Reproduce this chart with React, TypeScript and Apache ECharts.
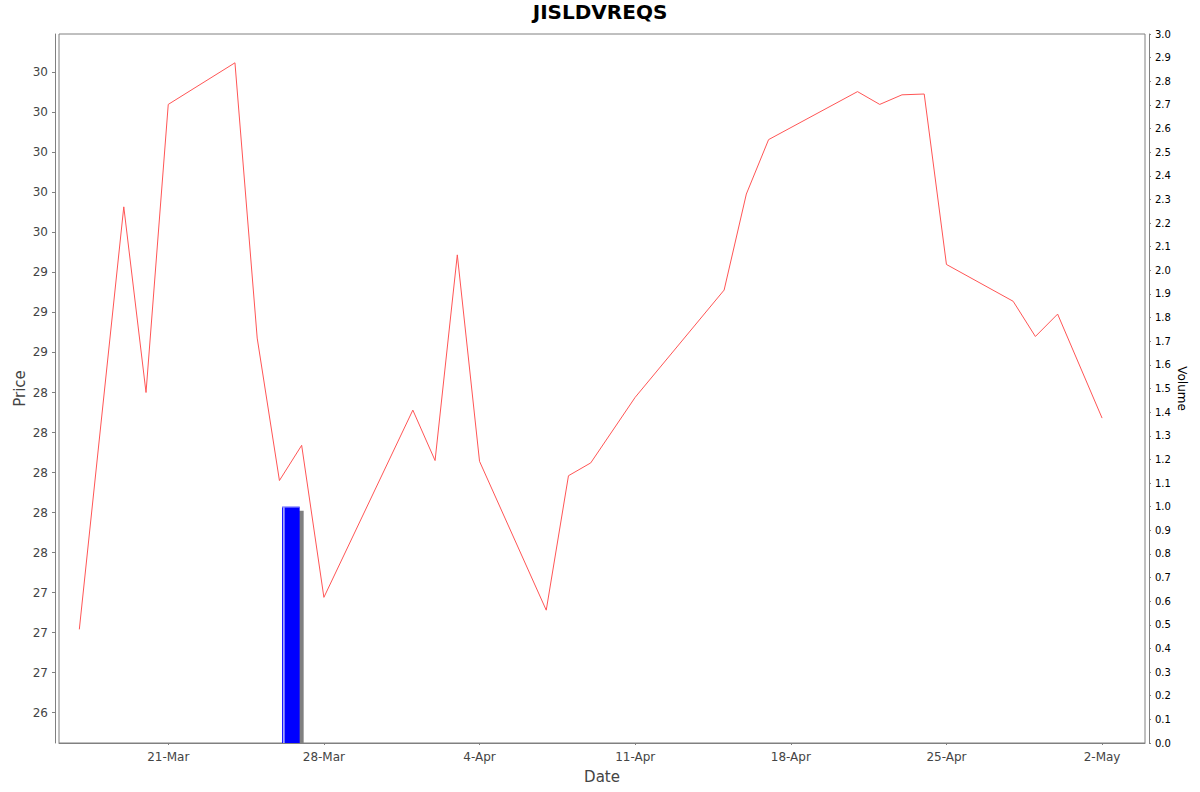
import * as echarts from "echarts";
import { useEffect, useRef } from "react";

const DAY = 86400000;
const MONTHS = ["Jan", "Feb", "Mar", "Apr", "May", "Jun", "Jul", "Aug", "Sep", "Oct", "Nov", "Dec"];

// trading days and closing prices
const dates = [
  "2025-03-17", "2025-03-19", "2025-03-20", "2025-03-21", "2025-03-24", "2025-03-25",
  "2025-03-26", "2025-03-27", "2025-03-28", "2025-04-01", "2025-04-02", "2025-04-03",
  "2025-04-04", "2025-04-07", "2025-04-08", "2025-04-09", "2025-04-11", "2025-04-15",
  "2025-04-16", "2025-04-17", "2025-04-21", "2025-04-22", "2025-04-23", "2025-04-24",
  "2025-04-25", "2025-04-28", "2025-04-29", "2025-04-30", "2025-05-02",
];
const prices = [
  27.02, 29.66, 28.5, 30.3, 30.56, 28.84,
  27.95, 28.17, 27.22, 28.39, 28.075, 29.36,
  28.07, 27.14, 27.98, 28.06, 28.47, 29.14,
  29.74, 30.08, 30.38, 30.3, 30.36, 30.365,
  29.3, 29.07, 28.85, 28.99, 28.34,
];

// volume bars
const volumeDates = ["2025-03-26"];
const volumes = [1.0];

// axis ticks
const priceTicks = [
  26.5, 26.75, 27, 27.25, 27.5, 27.75, 28, 28.25, 28.5,
  28.75, 29, 29.25, 29.5, 29.75, 30, 30.25, 30.5,
];
const dateTicks = ["2025-03-21", "2025-03-28", "2025-04-04", "2025-04-11", "2025-04-18", "2025-04-25", "2025-05-02"];

const toTime = (s: string) => {
  const [y, m, d] = s.split("-").map(Number);
  return new Date(y, m - 1, d).getTime();
};

// java DecimalFormat style rounding (half even)
const halfEven = (v: number) => {
  const f = Math.floor(v);
  if (Math.abs(v - f - 0.5) < 1e-9) return f % 2 === 0 ? f : f + 1;
  return Math.round(v);
};

const FONT = "DejaVu Sans";
const AXIS_GRAY = "#808080";

export default function App() {
  const chartRef = useRef<HTMLDivElement>(null);

  useEffect(() => {
    document.body.style.margin = "0";
    const chart = echarts.init(chartRef.current!, null, { renderer: "svg" });
    const xMin = toTime(dates[0]) - 0.914 * DAY;
    const xMax = toTime(dates[dates.length - 1]) + 1.93 * DAY;
    const dateTickValues = dateTicks.map(toTime);

    const option: any = {
      animation: false,
      backgroundColor: "#ffffff",
      textStyle: { fontFamily: FONT },
      title: {
        text: "JISLDVREQS",
        left: "center",
        top: 2,
        padding: 0,
        textStyle: { fontFamily: FONT, fontSize: 20, fontWeight: "bold", color: "#000000" },
      },
      grid: {
        left: 59,
        right: 55,
        top: 34,
        bottom: 49,
        show: true,
        borderColor: AXIS_GRAY,
        borderWidth: 1,
        backgroundColor: "#ffffff",
      },
      xAxis: {
        type: "value",
        min: xMin,
        max: xMax,
        offset: 4,
        name: "Date",
        nameLocation: "middle",
        nameGap: 22,
        nameTextStyle: { fontFamily: FONT, fontSize: 15, color: "#444444" },
        axisLine: { show: true, lineStyle: { color: AXIS_GRAY, width: 1 } },
        axisTick: {
          show: true,
          length: 2,
          lineStyle: { color: AXIS_GRAY },
          customValues: dateTickValues,
        },
        axisLabel: {
          customValues: dateTickValues,
          margin: 4,
          fontFamily: FONT,
          fontSize: 12,
          color: "#444444",
          formatter: (v: number) => {
            const d = new Date(v);
            return `${d.getDate()}-${MONTHS[d.getMonth()]}`;
          },
        },
        splitLine: { show: false },
      },
      yAxis: [
        {
          type: "value",
          position: "left",
          min: 26.31,
          max: 30.74,
          offset: 4,
          name: "Price",
          nameLocation: "middle",
          nameMoveOverlap: false,
          nameGap: 28,
          nameTextStyle: { fontFamily: FONT, fontSize: 15, color: "#444444" },
          axisLine: { show: true, lineStyle: { color: AXIS_GRAY, width: 1 } },
          axisTick: { show: true, length: 3, lineStyle: { color: AXIS_GRAY }, customValues: priceTicks },
          axisLabel: {
            customValues: priceTicks,
            margin: 7,
            fontFamily: FONT,
            fontSize: 12,
            color: "#444444",
            formatter: (v: number) => String(halfEven(v)),
          },
          splitLine: { show: false },
        },
        {
          type: "value",
          position: "right",
          min: 0,
          max: 3,
          interval: 0.1,
          offset: 4,
          name: "Volume",
          nameLocation: "middle",
          nameMoveOverlap: false,
          nameRotate: -90,
          nameGap: 27,
          nameTextStyle: { fontFamily: FONT, fontSize: 12, color: "#000000" },
          axisLine: { show: true, lineStyle: { color: AXIS_GRAY, width: 1 } },
          axisTick: { show: true, length: 2, lineStyle: { color: AXIS_GRAY } },
          axisLabel: {
            margin: 6,
            fontFamily: FONT,
            fontSize: 10,
            color: "#000000",
            formatter: (v: number) => v.toFixed(1),
          },
          splitLine: { show: false },
        },
      ],
      series: [
        {
          name: "Volume",
          type: "custom",
          yAxisIndex: 1,
          clip: true,
          data: volumeDates.map((d, i) => [toTime(d), volumes[i]]),
          renderItem: (params: any, api: any) => {
            const start = api.value(0);
            const p0 = api.coord([start, api.value(1)]);
            const p1 = api.coord([start + DAY, 0]);
            const w = p1[0] - p0[0];
            const left = p0[0] + w * 0.12;
            const right = p1[0] - w * 0.09;
            const top = p0[1];
            const bottom = p1[1];
            return {
              type: "group",
              children: [
                {
                  type: "rect",
                  shape: { x: left + 4, y: top + 4, width: right - left, height: bottom - top - 4 },
                  style: { fill: "#808080" },
                },
                {
                  type: "rect",
                  shape: { x: left, y: top, width: right - left, height: bottom - top },
                  style: { fill: "#0000ff" },
                },
                {
                  type: "rect",
                  shape: { x: left + 1.2, y: top, width: 1.2, height: bottom - top },
                  style: { fill: "#e8e8ff" },
                },
                {
                  type: "rect",
                  shape: { x: left, y: top, width: right - left, height: 1 },
                  style: { fill: "#8080ff" },
                },
              ],
            };
          },
          z: 1,
        },
        {
          name: "Price",
          type: "line",
          yAxisIndex: 0,
          data: dates.map((d, i) => [toTime(d), prices[i]]),
          showSymbol: false,
          symbol: "none",
          lineStyle: { color: "#ff5555", width: 1 },
          itemStyle: { color: "#ff5555" },
          z: 2,
        },
      ],
    };
    chart.setOption(option);
    return () => {
      chart.dispose();
    };
  }, []);

  return <div ref={chartRef} style={{ width: "1200px", height: "792px" }}></div>;
}
